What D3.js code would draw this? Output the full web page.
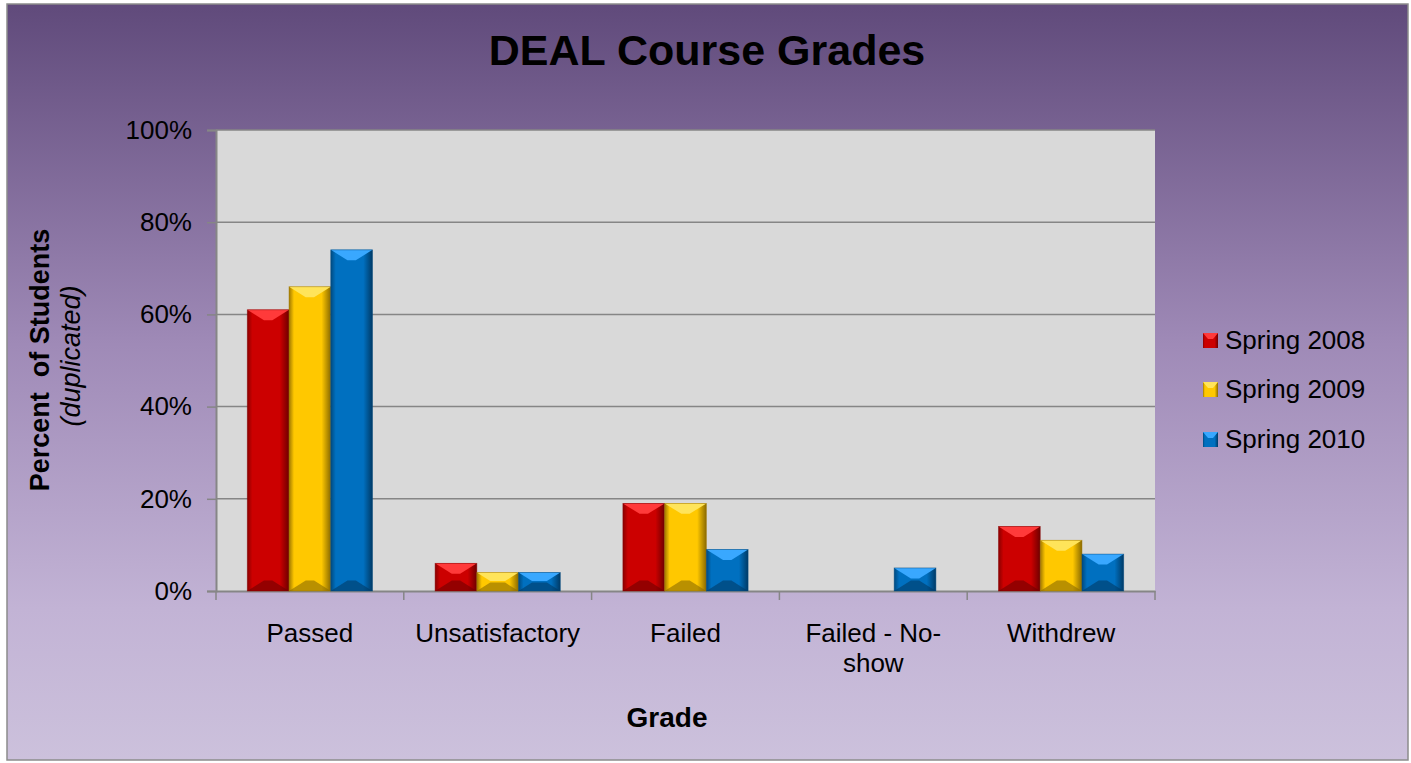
<!DOCTYPE html>
<html><head><meta charset="utf-8">
<script src="https://cdn.jsdelivr.net/npm/d3@7"></script>
<style>html,body{margin:0;padding:0;background:#fff;}svg{display:block;font-family:"Liberation Sans",Arial,sans-serif;}</style>
</head><body>
<svg id="c" width="1411" height="763"></svg>
<script>
const categories = ["Passed", "Unsatisfactory", "Failed", "Failed - No-show", "Withdrew"];
const categoryLines = [["Passed"], ["Unsatisfactory"], ["Failed"], ["Failed - No-", "show"], ["Withdrew"]];
const seriesNames = ["Spring 2008", "Spring 2009", "Spring 2010"];
const spring2008 = [61, 6, 19, 0, 14];
const spring2009 = [66, 4, 19, 0, 11];
const spring2010 = [74, 4, 9, 5, 8];
const yTicks = [0, 20, 40, 60, 80, 100];
const colors = [
  {base:"#cc0000", light:"#ff3a3a", dark:"#6e0000", edge:"#8a0000"},
  {base:"#ffc800", light:"#ffe45a", dark:"#8a6a00", edge:"#a07800"},
  {base:"#0070c0", light:"#39a8ff", dark:"#003a66", edge:"#004a80"}
];
const values = [spring2008, spring2009, spring2010];

const svg = d3.select("#c");
const defs = svg.append("defs");
const bg = defs.append("linearGradient").attr("id","bg").attr("x1",0).attr("y1",0).attr("x2",0).attr("y2",1);
bg.append("stop").attr("offset","0%").attr("stop-color","#604a7b");
bg.append("stop").attr("offset","45%").attr("stop-color","#9f8ab7");
bg.append("stop").attr("offset","80%").attr("stop-color","#c2b3d5");
bg.append("stop").attr("offset","100%").attr("stop-color","#ccc1dc");
colors.forEach((c,i)=>{
  const g = defs.append("linearGradient").attr("id","h"+i).attr("x1",0).attr("y1",0).attr("x2",1).attr("y2",0);
  g.append("stop").attr("offset","0%").attr("stop-color",c.edge);
  g.append("stop").attr("offset","12%").attr("stop-color",c.base);
  g.append("stop").attr("offset","78%").attr("stop-color",c.base);
  g.append("stop").attr("offset","100%").attr("stop-color",c.dark);
});

svg.append("rect").attr("x",7).attr("y",4).attr("width",1401).attr("height",756)
  .attr("fill","url(#bg)").attr("stroke","#8c8c8c").attr("stroke-width",1.5);

const margin = {left:216, right:1155, top:130, bottom:591};
const x0 = d3.scaleBand().domain(categories).range([margin.left, margin.right]).paddingInner(0).paddingOuter(0);
const x1 = d3.scaleBand().domain(seriesNames).range([0, x0.bandwidth()]).paddingInner(0).paddingOuter(0.75);
const y = d3.scaleLinear().domain([0,100]).range([margin.bottom, margin.top]);

svg.append("rect").attr("x",margin.left).attr("y",margin.top)
  .attr("width",margin.right-margin.left).attr("height",margin.bottom-margin.top).attr("fill","#d9d9d9");

// gridlines
svg.append("g").selectAll("line").data(yTicks.slice(1)).join("line")
  .attr("x1",margin.left).attr("x2",margin.right).attr("y1",d=>y(d)).attr("y2",d=>y(d))
  .attr("stroke","#868686").attr("stroke-width",1.5);

// y axis
const yAxis = svg.append("g").attr("transform",`translate(${margin.left},0)`)
  .call(d3.axisLeft(y).tickValues(yTicks).tickFormat(d=>d+"%").tickSize(9).tickPadding(15));
yAxis.select(".domain").attr("stroke","#868686").attr("stroke-width",2);
yAxis.selectAll(".tick line").attr("stroke","#868686").attr("stroke-width",1.5);
yAxis.selectAll(".tick text").attr("font-size",26).attr("fill","#000").attr("font-family","Liberation Sans, Arial, sans-serif");

// x axis
const xAxis = svg.append("g").attr("transform",`translate(0,${margin.bottom})`)
  .call(d3.axisBottom(x0).tickSize(0).tickFormat(""));
xAxis.select(".domain").attr("stroke","#868686").attr("stroke-width",2);
const bounds = categories.map(c=>x0(c)).concat([margin.right]);
svg.append("g").selectAll("line").data(bounds).join("line")
  .attr("x1",d=>d).attr("x2",d=>d).attr("y1",margin.bottom).attr("y2",margin.bottom+9)
  .attr("stroke","#868686").attr("stroke-width",1.5);
svg.append("g").selectAll("text").data(categories).join("text")
  .attr("x",d=>x0(d)+x0.bandwidth()/2).attr("y",642).attr("text-anchor","middle")
  .attr("font-size",26).attr("fill","#000")
  .each(function(d,i){
    const t = d3.select(this);
    categoryLines[i].forEach((ln,j)=>t.append("tspan").attr("x",x0(d)+x0.bandwidth()/2).attr("dy",j?30:0).text(ln));
  });

// bars
const barG = svg.append("g");
categories.forEach((cat,ci)=>{
  seriesNames.forEach((s,si)=>{
    const v = values[si][ci];
    if (!v) return;
    const c = colors[si];
    const bx = x0(cat)+x1(s), bw = x1.bandwidth();
    const by = y(v), bh = y(0)-y(v);
    const b = Math.min(11, bh/2.2, bw/4);
    const g = barG.append("g");
    g.append("rect").attr("x",bx).attr("y",by).attr("width",bw).attr("height",bh).attr("fill",`url(#h${si})`);
    g.append("polygon").attr("points",[[bx,by],[bx+bw,by],[bx+bw-b*1.6,by+b],[bx+b*1.6,by+b]].join(" ")).attr("fill",c.light);
    g.append("polygon").attr("points",[[bx,by+bh],[bx+bw,by+bh],[bx+bw-b*1.6,by+bh-b],[bx+b*1.6,by+bh-b]].join(" ")).attr("fill",c.dark).attr("opacity",0.6);
    g.append("rect").attr("x",bx).attr("y",by).attr("width",bw).attr("height",bh).attr("fill","none").attr("stroke",c.edge).attr("stroke-width",0.8).attr("opacity",0.6);
  });
});

// title
svg.append("text").attr("x",707).attr("y",65).attr("text-anchor","middle")
  .attr("font-size",43).attr("font-weight","bold").attr("fill","#000").text("DEAL Course Grades");
// x title
svg.append("text").attr("x",667).attr("y",727).attr("text-anchor","middle")
  .attr("font-size",28).attr("font-weight","bold").attr("fill","#000").text("Grade");
// y title
svg.append("text").attr("transform","translate(49,360) rotate(-90)").attr("text-anchor","middle")
  .attr("font-size",27).attr("font-weight","bold").attr("fill","#000").attr("xml:space","preserve").text("Percent  of Students");
svg.append("text").attr("transform","translate(80,356) rotate(-90)").attr("text-anchor","middle")
  .attr("font-size",27).attr("font-style","italic").attr("fill","#000").text("(duplicated)");

// legend
const legY = [349, 398, 448];
const leg = svg.append("g").selectAll("g").data(seriesNames).join("g")
  .attr("transform",(d,i)=>`translate(1203,${legY[i]})`);
leg.each(function(d,i){
  const g = d3.select(this), c = colors[i];
  g.append("rect").attr("x",0).attr("y",-16).attr("width",15).attr("height",15).attr("fill",`url(#h${i})`);
  g.append("polygon").attr("points","0,-16 15,-16 10,-10 5,-10").attr("fill",c.light);
});
leg.append("text").attr("x",22).attr("y",0).attr("font-size",26).attr("fill","#000").text(d=>d);
</script>
</body></html>
